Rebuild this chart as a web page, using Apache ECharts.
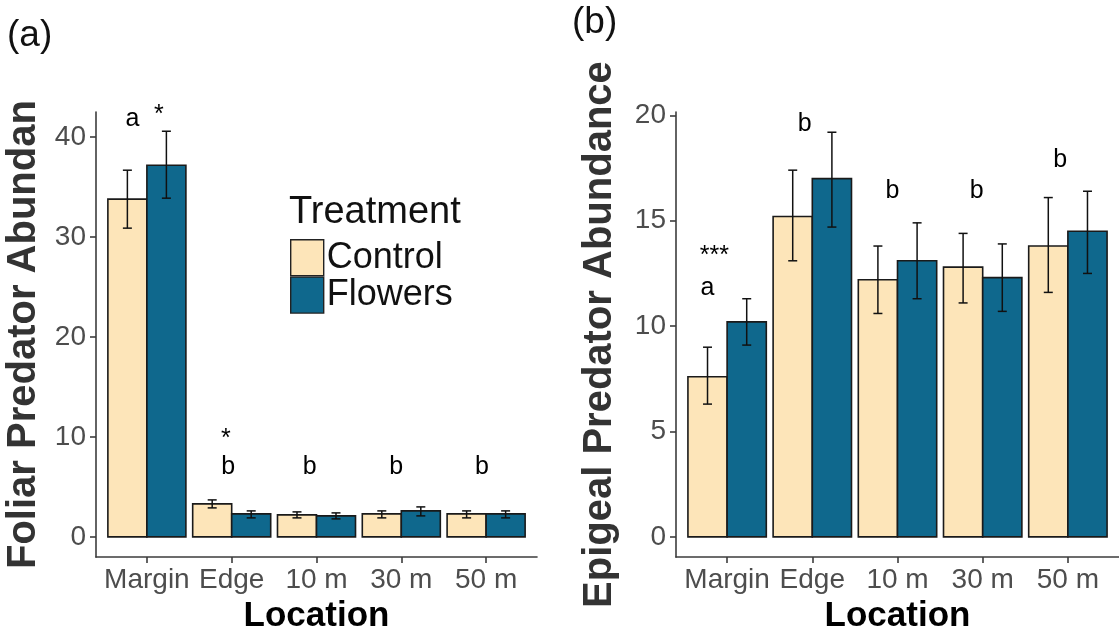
<!DOCTYPE html>
<html><head><meta charset="utf-8">
<script src="https://cdn.jsdelivr.net/npm/echarts@6/dist/echarts.min.js"></script>
<style>html,body{margin:0;padding:0;background:#fff}#c{width:1119px;height:639px}</style>
</head><body><div id="c"></div>
<script>
// ---------- data ----------
const categories = ['Margin', 'Edge', '10 m', '30 m', '50 m'];
const seriesNames = ['Control', 'Flowers'];

const foliarControl   = [33.8, 3.3, 2.2, 2.3, 2.3];
const foliarControlLo = [30.9, 2.9, 1.9, 1.9, 1.9];
const foliarControlHi = [36.7, 3.7, 2.5, 2.6, 2.6];
const foliarFlowers   = [37.2, 2.3, 2.1, 2.6, 2.3];
const foliarFlowersLo = [33.9, 1.9, 1.8, 2.1, 1.9];
const foliarFlowersHi = [40.6, 2.6, 2.4, 3.0, 2.6];

const epigealControl   = [7.6, 15.2, 12.2, 12.8, 13.8];
const epigealControlLo = [6.3, 13.1, 10.6, 11.1, 11.6];
const epigealControlHi = [9.0, 17.4, 13.8, 14.4, 16.1];
const epigealFlowers   = [10.2, 17.0, 13.1, 12.3, 14.5];
const epigealFlowersLo = [9.1, 14.7, 11.3, 10.7, 12.5];
const epigealFlowersHi = [11.3, 19.2, 14.9, 13.9, 16.4];

const foliarTicks  = [0, 10, 20, 30, 40];
const epigealTicks = [0, 5, 10, 15, 20];

// significance letters: text, x (category position), y (data value)
const foliarLetterText = ['a', '*', '*', 'b', 'b', 'b', 'b'];
const foliarLetterX    = [0.83, 1.14, 1.93, 1.96, 2.92, 3.94, 4.95];
const foliarLetterY    = [41.8, 42.2, 9.8, 6.95, 6.95, 6.95, 6.95];

const epigealLetterText = ['***', 'a', 'b', 'b', 'b', 'b'];
const epigealLetterX    = [0.85, 0.77, 1.91, 2.94, 3.93, 4.91];
const epigealLetterY    = [13.3, 11.8, 19.6, 16.4, 16.4, 17.9];

// ---------- style ----------
const FONT = '"Liberation Sans", Arial, sans-serif';
const colControl = '#FDE5B9';
const colFlowers = '#0F688D';
const axisCol = '#3d3d3d';
const labelCol = '#4d4d4d';
const BAR_W = 0.46;

const chart = echarts.init(document.getElementById('c'), null, {renderer: 'canvas'});

function barSeries(name, values, idx, color, side) {
  return {
    name: name, type: 'custom', xAxisIndex: idx, yAxisIndex: idx,
    itemStyle: {color: color}, z: 2,
    data: values.map((v, i) => [i + 1, v]),
    renderItem: function (params, api) {
      const c = api.value(0), v = api.value(1);
      const x0 = side < 0 ? c - BAR_W : c;
      const x1 = side < 0 ? c : c + BAR_W;
      const p0 = api.coord([x0, v]);
      const p1 = api.coord([x1, 0]);
      return {type: 'rect',
        shape: {x: p0[0], y: p0[1], width: p1[0] - p0[0], height: p1[1] - p0[1]},
        style: {fill: color, stroke: '#1a1a1a', lineWidth: 1.6}};
    }
  };
}
function errSeries(name, lo, hi, idx, side) {
  return {
    name: name, type: 'custom', xAxisIndex: idx, yAxisIndex: idx, z: 5,
    data: lo.map((l, i) => [i + 1, l, hi[i]]),
    renderItem: function (params, api) {
      const x = api.value(0) + side * BAR_W / 2;
      const a = api.coord([x, api.value(1)]);
      const b = api.coord([x, api.value(2)]);
      const w = 4.5;
      const st = {stroke: '#111', lineWidth: 1.5};
      return {type: 'group', children: [
        {type: 'line', shape: {x1: a[0], y1: a[1], x2: b[0], y2: b[1]}, style: st},
        {type: 'line', shape: {x1: a[0] - w, y1: a[1], x2: a[0] + w, y2: a[1]}, style: st},
        {type: 'line', shape: {x1: b[0] - w, y1: b[1], x2: b[0] + w, y2: b[1]}, style: st}
      ]};
    }
  };
}
function letterSeries(texts, xs, ys, idx) {
  return {
    name: 'letters' + idx, type: 'custom', xAxisIndex: idx, yAxisIndex: idx, z: 6, clip: false,
    data: xs.map((x, i) => [x, ys[i], i]),
    renderItem: function (params, api) {
      const p = api.coord([api.value(0), api.value(1)]);
      return {type: 'text', x: p[0], y: p[1],
        style: {text: texts[api.value(2)], fill: '#000', fontSize: 25, fontFamily: FONT,
                 align: 'center', verticalAlign: 'middle'}};
    }
  };
}
function xAxisCfg(idx) {
  return {
    type: 'value', gridIndex: idx, min: 0.4, max: 5.6,
    name: 'Location', nameLocation: 'middle', nameGap: 40,
    nameTextStyle: {fontSize: 35, fontWeight: 'bold', color: '#000', fontFamily: FONT},
    axisLine: {onZero: false, lineStyle: {color: axisCol, width: 1.6}},
    axisTick: {show: true, length: 6, customValues: [1, 2, 3, 4, 5], lineStyle: {color: axisCol, width: 1.6}},
    axisLabel: {customValues: [1, 2, 3, 4, 5], margin: 9, fontSize: 28, color: labelCol, fontFamily: FONT,
      formatter: v => categories[Math.round(v) - 1]},
    splitLine: {show: false}
  };
}
function yAxisCfg(idx, name, min, max, ticks, gap) {
  return {
    type: 'value', gridIndex: idx, min: min, max: max,
    name: name, nameLocation: 'middle', nameGap: gap,
    nameTextStyle: {fontSize: 40, fontWeight: 'bold', color: '#333', fontFamily: FONT},
    axisLine: {show: true, lineStyle: {color: axisCol, width: 1.6}},
    axisTick: {show: true, length: 6, customValues: ticks, lineStyle: {color: axisCol, width: 1.6}},
    axisLabel: {customValues: ticks, margin: 10, fontSize: 28, color: labelCol, fontFamily: FONT},
    splitLine: {show: false}
  };
}

const option = {
  animation: false,
  backgroundColor: '#fff',
  textStyle: {fontFamily: FONT},
  title: [
    {text: '(a)', left: 7, top: 17, textStyle: {fontSize: 37, fontWeight: 'normal', color: '#111', fontFamily: FONT, lineHeight: 37}, padding: 0},
    {text: '(b)', left: 572, top: 4, textStyle: {fontSize: 37, fontWeight: 'normal', color: '#111', fontFamily: FONT, lineHeight: 37}, padding: 0},
    {text: 'Treatment', left: 289, top: 194, textStyle: {fontSize: 38, fontWeight: 'normal', color: '#111', fontFamily: FONT, lineHeight: 38}, padding: 0}
  ],
  legend: {
    data: seriesNames, orient: 'vertical', left: 290, top: 239, padding: 0,
    itemWidth: 33, itemHeight: 36, itemGap: 0, icon: 'rect',
    itemStyle: {borderColor: '#222', borderWidth: 1.4},
    textStyle: {fontSize: 36, color: '#111', fontFamily: FONT, padding: [0, 0, 0, -2]},
    selectedMode: false
  },
  grid: [
    {left: 96, top: 112, width: 441, height: 451},
    {left: 676, top: 112, width: 449, height: 451}
  ],
  xAxis: [xAxisCfg(0), xAxisCfg(1)],
  yAxis: [
    yAxisCfg(0, 'Foliar Predator Abundan', -2.025, 42.525, foliarTicks, 52),
    yAxisCfg(1, 'Epigeal Predator Abundance', -0.96, 20.16, epigealTicks, 56)
  ],
  series: [
    barSeries('Control', foliarControl, 0, colControl, -1),
    barSeries('Flowers', foliarFlowers, 0, colFlowers, 1),
    errSeries('Control SE (a)', foliarControlLo, foliarControlHi, 0, -1),
    errSeries('Flowers SE (a)', foliarFlowersLo, foliarFlowersHi, 0, 1),
    letterSeries(foliarLetterText, foliarLetterX, foliarLetterY, 0),
    barSeries('Control', epigealControl, 1, colControl, -1),
    barSeries('Flowers', epigealFlowers, 1, colFlowers, 1),
    errSeries('Control SE (b)', epigealControlLo, epigealControlHi, 1, -1),
    errSeries('Flowers SE (b)', epigealFlowersLo, epigealFlowersHi, 1, 1),
    letterSeries(epigealLetterText, epigealLetterX, epigealLetterY, 1)
  ]
};
chart.setOption(option);
</script>
</body></html>
